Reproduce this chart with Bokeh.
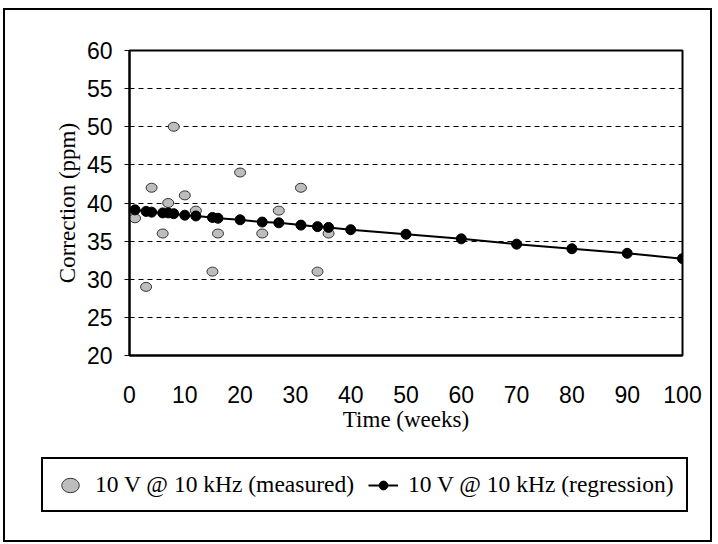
from bokeh.plotting import figure
from bokeh.layouts import column
from bokeh.models import Range1d, FixedTicker, Legend, LegendItem
from bokeh.embed import file_html
from bokeh.resources import INLINE

# Measured data
meas_weeks = [1, 3, 4, 6, 7, 8, 10, 12, 15, 16, 20, 24, 27, 31, 34, 36]
meas_ppm = [38, 29, 42, 36, 40, 50, 41, 39, 31, 36, 44, 36, 39, 42, 31, 36]

# Regression data
reg_weeks = [1, 3, 4, 6, 7, 8, 10, 12, 15, 16, 20, 24, 27, 31, 34, 36,
             40, 50, 60, 70, 80, 90, 100]
reg_ppm = [39.1, 38.9, 38.8, 38.7, 38.7, 38.6, 38.4, 38.3, 38.1, 38.0, 37.8,
           37.5, 37.4, 37.1, 36.9, 36.8, 36.5, 35.9, 35.3, 34.6, 34.0, 33.4, 32.7]

x_ticks = [0, 10, 20, 30, 40, 50, 60, 70, 80, 90, 100]
y_ticks = [20, 25, 30, 35, 40, 45, 50, 55, 60]

meas_label = "10 V @ 10 kHz (measured)"
reg_label = "10 V @ 10 kHz (regression)"

SERIF = "Liberation Serif"
SANS = "Liberation Sans"

MEAS_STYLE = dict(fill_color="#bdbdbd", line_color="#333333", line_width=1)

# ---------------- main chart ----------------
p = figure(width=705, height=445, output_backend="svg", toolbar_location=None,
           x_range=Range1d(0, 100), y_range=Range1d(20, 60),
           min_border_left=124, min_border_right=28, min_border_top=40,
           min_border_bottom=100)
p.frame_align = False
p.background_fill_color = "white"
p.border_fill_color = "white"
p.outline_line_color = "black"
p.outline_line_width = 2

p.xgrid.visible = False
p.ygrid.ticker = FixedTicker(ticks=y_ticks)
p.ygrid.grid_line_color = "black"
p.ygrid.grid_line_dash = "5 4"
p.ygrid.grid_line_width = 1

p.xaxis.ticker = FixedTicker(ticks=x_ticks)
p.yaxis.ticker = FixedTicker(ticks=y_ticks)
for ax in (p.xaxis[0], p.yaxis[0]):
    ax.axis_line_color = "black"
    ax.axis_line_width = 2
    ax.minor_tick_line_color = None
    ax.major_label_text_font = SANS
    ax.major_label_text_font_size = "23px"
    ax.major_label_text_color = "black"
    ax.axis_label_text_font = SERIF
    ax.axis_label_text_font_size = "23px"
    ax.axis_label_text_font_style = "normal"
    ax.axis_label_text_color = "black"

p.xaxis.major_tick_line_color = None
p.xaxis.major_tick_out = 0
p.xaxis.major_tick_in = 0
p.xaxis.major_label_standoff = 30
p.xaxis.axis_label = "Time (weeks)"
p.xaxis.axis_label_standoff = 1

p.yaxis.major_tick_line_color = "black"
p.yaxis.major_tick_line_width = 1
p.yaxis.major_tick_out = 5
p.yaxis.major_tick_in = 0
p.yaxis.major_label_standoff = 12
p.yaxis.axis_label = "Correction (ppm)"
p.yaxis.axis_label_standoff = 4

p.ellipse(x=meas_weeks, y=meas_ppm, width=11, height=9,
          width_units="screen", height_units="screen", **MEAS_STYLE)
p.line(x=reg_weeks, y=reg_ppm, line_color="black", line_width=2)
p.scatter(x=reg_weeks, y=reg_ppm, marker="circle", size=10,
          fill_color="black", line_color="black")

# ---------------- legend strip ----------------
lg = figure(width=705, height=85, output_backend="svg", toolbar_location=None,
            x_range=Range1d(0, 1), y_range=Range1d(0, 1),
            x_axis_type=None, y_axis_type=None,
            min_border=0, min_border_left=0, min_border_right=0,
            min_border_top=0, min_border_bottom=0)
lg.frame_align = False
lg.outline_line_color = None
lg.xgrid.visible = False
lg.ygrid.visible = False
lg.background_fill_color = "white"
lg.border_fill_color = "white"

# proxy renderers placed outside the visible range (only their legend glyphs show)
e_meas = lg.ellipse(x=[-5], y=[-5], width=11, height=9,
                    width_units="screen", height_units="screen", **MEAS_STYLE)
e_line = lg.line(x=[-5, -4], y=[-5, -5], line_color="black", line_width=2)
e_pts = lg.scatter(x=[-5], y=[-5], marker="circle", size=10,
                   fill_color="black", line_color="black")

legend = Legend(items=[
    LegendItem(label=meas_label, renderers=[e_meas]),
    LegendItem(label=reg_label, renderers=[e_line, e_pts]),
], location=(36, 28), orientation="horizontal")
legend.label_text_font = SERIF
legend.label_text_font_size = "23.5px"
legend.label_text_color = "black"
legend.border_line_color = "black"
legend.border_line_alpha = 1
legend.border_line_width = 2
legend.background_fill_color = "white"
legend.background_fill_alpha = 1
legend.padding = 12
legend.margin = 0
legend.spacing = 14
legend.glyph_width = 30
legend.glyph_height = 22
legend.label_standoff = 10
lg.add_layout(legend, "center")

layout = column(p, lg, spacing=0)
layout.styles = {"border": "2px solid black", "margin": "8px 0px 0px 3px"}

open("out.html", "w").write(file_html(layout, INLINE))
